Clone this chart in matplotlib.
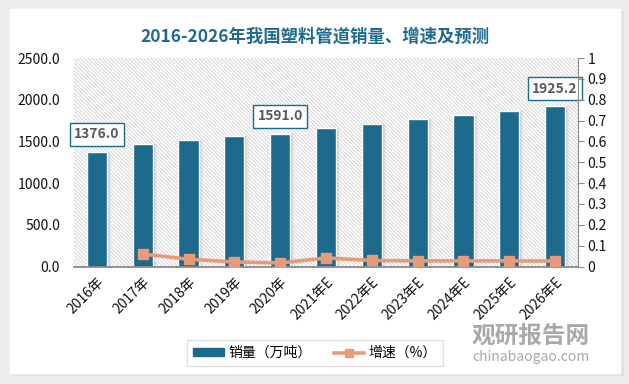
import numpy as np
import matplotlib
matplotlib.use("Agg")
import matplotlib.pyplot as plt
from matplotlib.patches import Rectangle
from matplotlib.lines import Line2D

plt.rcParams["font.family"] = ["Noto Sans CJK SC", "DejaVu Sans"]
plt.rcParams["hatch.linewidth"] = 0.7

years = ["2016年", "2017年", "2018年", "2019年", "2020年", "2021年E",
         "2022年E", "2023年E", "2024年E", "2025年E", "2026年E"]
sales = [1376.0, 1466.0, 1519.0, 1562.0, 1591.0, 1659.0,
         1707.0, 1767.0, 1815.0, 1863.0, 1925.2]
growth = [np.nan, 0.060, 0.035, 0.022, 0.017, 0.041,
          0.029, 0.027, 0.027, 0.027, 0.026]
labelled = [0, 4, 10]

BAR = "#1d6a8d"
LINE = "#e89b7b"
W, H = 629, 384

fig = plt.figure(figsize=(W / 100, H / 100), dpi=100, facecolor="#eeeeee")

# white card with a soft shadow
fig.patches.append(Rectangle((12 / W, 1 - 375 / H), 611 / W, 364 / H,
                             transform=fig.transFigure, color="#e2e2e2",
                             zorder=-10))
fig.patches.append(Rectangle((10 / W, 1 - 373 / H), 610 / W, 364 / H,
                             transform=fig.transFigure, color="white",
                             zorder=-9))

ax = fig.add_axes([74 / W, 1 - 266.5 / H, 504 / W, 208.5 / H])
ax.set_facecolor("white")
ax.add_patch(Rectangle((0, 0), 1, 1, transform=ax.transAxes, fill=False,
                       hatch="\\" * 9, edgecolor="#d4d4d4", lw=0, zorder=0))

x = np.arange(len(years))
# shadow behind bars
for k, a in enumerate([0.18, 0.12, 0.07]):
    ax.bar(x + 0.03 + 0.025 * k, sales, width=0.46, color="#888888",
           alpha=a, lw=0, zorder=1)
ax.bar(x, sales, width=0.44, color=BAR, edgecolor="white", linewidth=1.0,
       zorder=2)

for i in labelled:
    ax.annotate(f"{sales[i]:.1f}", (x[i], sales[i]), xytext=(0, 12.5),
                textcoords="offset points", ha="center", va="center",
                fontsize=10, fontweight="bold", color="#595959", zorder=6,
                bbox=dict(boxstyle="square,pad=0.3", fc="white",
                          ec=BAR, lw=1.0))

ax.set_xlim(-0.5, len(years) - 0.5)
ax.set_ylim(0, 2500)
ax.set_yticks(np.arange(0, 2501, 500))
ax.set_yticklabels([f"{v:.1f}" for v in np.arange(0, 2501, 500)])
ax.set_xticks(x)
ax.set_xticklabels(years, rotation=45, ha="right", rotation_mode="anchor")
ax.tick_params(axis="both", length=0, labelsize=10, colors="#111111")
ax.tick_params(axis="y", pad=10)
ax.tick_params(axis="x", pad=6)
for s in ["top", "left", "right"]:
    ax.spines[s].set_visible(False)
ax.spines["bottom"].set_color("#8a8a8a")
ax.spines["bottom"].set_linewidth(1.3)

ax2 = ax.twinx()
ax2.plot(x, growth, color=LINE, lw=2.6, marker="s", markersize=7,
         zorder=5)
ax2.set_ylim(0, 1)
ticks = np.round(np.arange(0, 1.01, 0.1), 1)
ax2.set_yticks(ticks)
ax2.set_yticklabels(["0" if t == 0 else ("1" if t == 1 else f"{t:.1f}")
                     for t in ticks])
ax2.tick_params(axis="y", length=4, color="#8a8a8a", labelsize=10,
                labelcolor="#111111", pad=3)
for s in ["top", "left", "bottom"]:
    ax2.spines[s].set_visible(False)
ax2.spines["right"].set_color("#8a8a8a")

fig.text(315 / W, 1 - 37 / H, "2016-2026年我国塑料管道销量、增速及预测",
         ha="center", va="center", fontsize=12.5, fontweight="bold",
         color="#1f6b8e")

handles = [
    Rectangle((0, 0), 1, 1, color=BAR),
    Line2D([], [], color=LINE, lw=2.6, marker="s", markersize=6),
]
fig.legend(handles, ["销量（万吨）", "增速（%）"], loc="center",
           bbox_to_anchor=(315 / W, 1 - 353 / H), ncol=2, fontsize=10,
           frameon=True, fancybox=False, edgecolor="#d9d9d9",
           handlelength=2.2, handleheight=0.5, handletextpad=0.3,
           columnspacing=1.6, borderpad=0.45)

# watermark
fig.text(531 / W, 1 - 336 / H, "观研报告网", ha="center", va="center",
         fontsize=17, fontweight="bold", color="#9a9a9a", alpha=0.85)
fig.text(531 / W, 1 - 357 / H, "chinabaogao.com", ha="center", va="center",
         fontsize=10, color="#9a9a9a", alpha=0.85)

fig.savefig("out.png", dpi=100, facecolor=fig.get_facecolor())
